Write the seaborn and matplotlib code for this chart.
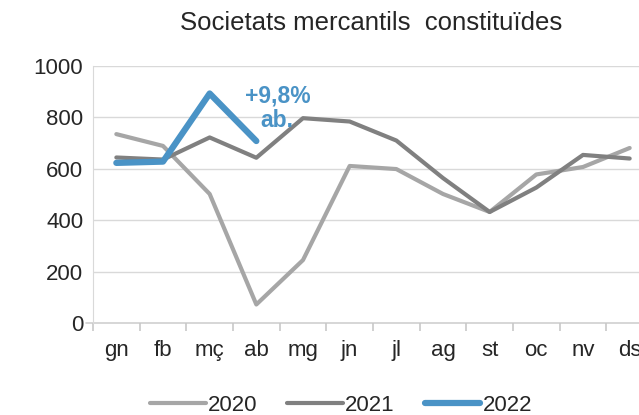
import matplotlib.pyplot as plt
import numpy as np
import pandas as pd
import seaborn as sns

months = ['gn', 'fb', 'mç', 'ab', 'mg', 'jn', 'jl', 'ag', 'st', 'oc', 'nv', 'ds']
vals_2020 = [735, 689, 502, 72, 245, 611, 599, 502, 432, 578, 607, 681]
vals_2021 = [644, 636, 722, 643, 797, 784, 710, 564, 432, 527, 654, 640]
vals_2022 = [623, 628, 893, 708]
yticks = [0, 200, 400, 600, 800, 1000]

series = {
    '2020': (vals_2020, '#A6A6A6', 3.0),
    '2021': (vals_2021, '#808080', 3.0),
    '2022': (vals_2022, '#4A93C6', 4.5),
}

sns.set_style('white')
plt.rcParams['font.family'] = ['Liberation Sans', 'DejaVu Sans']

fig = plt.figure(figsize=(6.39, 4.15), dpi=100)
ax = fig.add_axes([93 / 639, 1 - 323 / 415, 560 / 639, 257 / 415])

for name, (vals, col, lw) in series.items():
    df = pd.DataFrame({'mes': months[:len(vals)], 'n': vals})
    sns.lineplot(data=df, x='mes', y='n', ax=ax, color=col, linewidth=lw,
                 label=name, sort=False)

ax.set_xlim(-0.5, 11.5)
ax.set_ylim(0, 1000)
ax.set_yticks(yticks)
ax.yaxis.grid(True, color='#D9D9D9', linewidth=1)
ax.set_axisbelow(True)
for s in ['top', 'right', 'bottom']:
    ax.spines[s].set_visible(False)
ax.spines['left'].set_color('#D9D9D9')
# the zero line runs a little past the y axis, as in the original
ax.axhline(0, xmin=-0.013, xmax=1, color='#D0D0D0', linewidth=1.2,
           zorder=0.5, clip_on=False)

ax.set_xticks(range(len(months)))
ax.set_xticklabels(months)
ax.set_xticks(np.arange(-0.5, 12, 1), minor=True)
ax.tick_params(axis='x', which='major', length=0, labelsize=16, pad=12)
ax.tick_params(axis='x', which='minor', bottom=True, length=6,
               color='#C8C8C8', width=1.2, direction='out')
ax.tick_params(axis='y', length=0, labelsize=16, pad=7)
ax.set_xlabel('')
ax.set_ylabel('')

ax.text(3.45, 835, '+9,8%\nab.', color='#4A93C6', fontsize=16.5,
        fontweight='bold', ha='center', va='center', linespacing=1.05)

fig.text(371 / 639, 1 - 23 / 415, 'Societats mercantils  constituïdes',
         ha='center', va='center', fontsize=18.5)

handles, labels = ax.get_legend_handles_labels()
ax.legend(handles, labels, loc='center', bbox_to_anchor=(341 / 639, 1 - 405 / 415),
          bbox_transform=fig.transFigure, ncol=3, frameon=False, fontsize=16,
          handlelength=2.5, handletextpad=0.1, columnspacing=1.35,
          borderpad=0)

fig.savefig('out.png', dpi=100)
